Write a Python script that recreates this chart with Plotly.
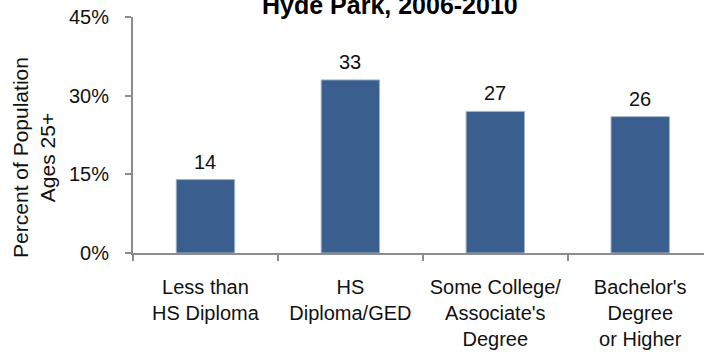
import plotly.graph_objects as go

categories = ["Less than<br>HS Diploma", "HS<br>Diploma/GED", "Some College/<br>Associate's<br>Degree", "Bachelor's<br>Degree<br>or Higher"]
values = [14, 33, 27, 26]
value_labels = ["14", "33", "27", "26"]
y_ticks = [0, 15, 30, 45]
y_tick_labels = ["0%", "15%", "30%", "45%"]
title_text = "Hyde Park, 2006-2010"
y_title = "Percent of Population<br>Ages 25+"

FONT = "Liberation Sans, Arial, sans-serif"
BAR = "#3A5E8D"
AXIS = "#8C8C8C"

fig = go.Figure()
fig.add_trace(go.Bar(
    x=categories, y=values,
    marker=dict(color=BAR, line=dict(color="#9FB3CC", width=1)),
    hoverinfo="skip",
))

for c, v, t in zip(categories, values, value_labels):
    fig.add_annotation(x=c, y=v, text=t, showarrow=False, xref="x", yref="y",
                       yanchor="bottom", yshift=5,
                       font=dict(family=FONT, size=20, color="#111111"))

fig.add_annotation(xref="paper", yref="paper", x=0.45, y=1.0, text="<b>" + title_text + "</b>",
                   showarrow=False, xanchor="center", yanchor="bottom", yshift=-4,
                   font=dict(family=FONT, size=25, color="#000000"))

fig.add_annotation(xref="paper", yref="paper", x=0, y=0.403, text=y_title, textangle=-90,
                   showarrow=False, xanchor="center", yanchor="middle", xshift=-99,
                   font=dict(family=FONT, size=21, color="#111111"))

fig.update_layout(
    width=704, height=352,
    margin=dict(l=133, r=0, t=17, b=99),
    paper_bgcolor="white", plot_bgcolor="white",
    showlegend=False,
    bargap=0.597,
    font=dict(family=FONT, size=20, color="#111111"),
)
fig.update_xaxes(
    type="category", range=[-0.5, 3.44],
    showline=True, linecolor=AXIS, linewidth=2,
    ticks="outside", tickson="boundaries", ticklen=6, tickcolor=AXIS, tickwidth=2,
    ticklabelstandoff=15,
    showgrid=False, zeroline=False,
    tickfont=dict(family=FONT, size=20, color="#111111"),
)
fig.update_yaxes(
    range=[0, 45], tickvals=y_ticks, ticktext=y_tick_labels,
    showline=True, linecolor=AXIS, linewidth=2,
    ticks="outside", ticklen=6, tickcolor=AXIS, tickwidth=2,
    ticklabelstandoff=12,
    showgrid=False, zeroline=False,
    tickfont=dict(family=FONT, size=20, color="#111111"),
)

fig.write_html("out.html")
